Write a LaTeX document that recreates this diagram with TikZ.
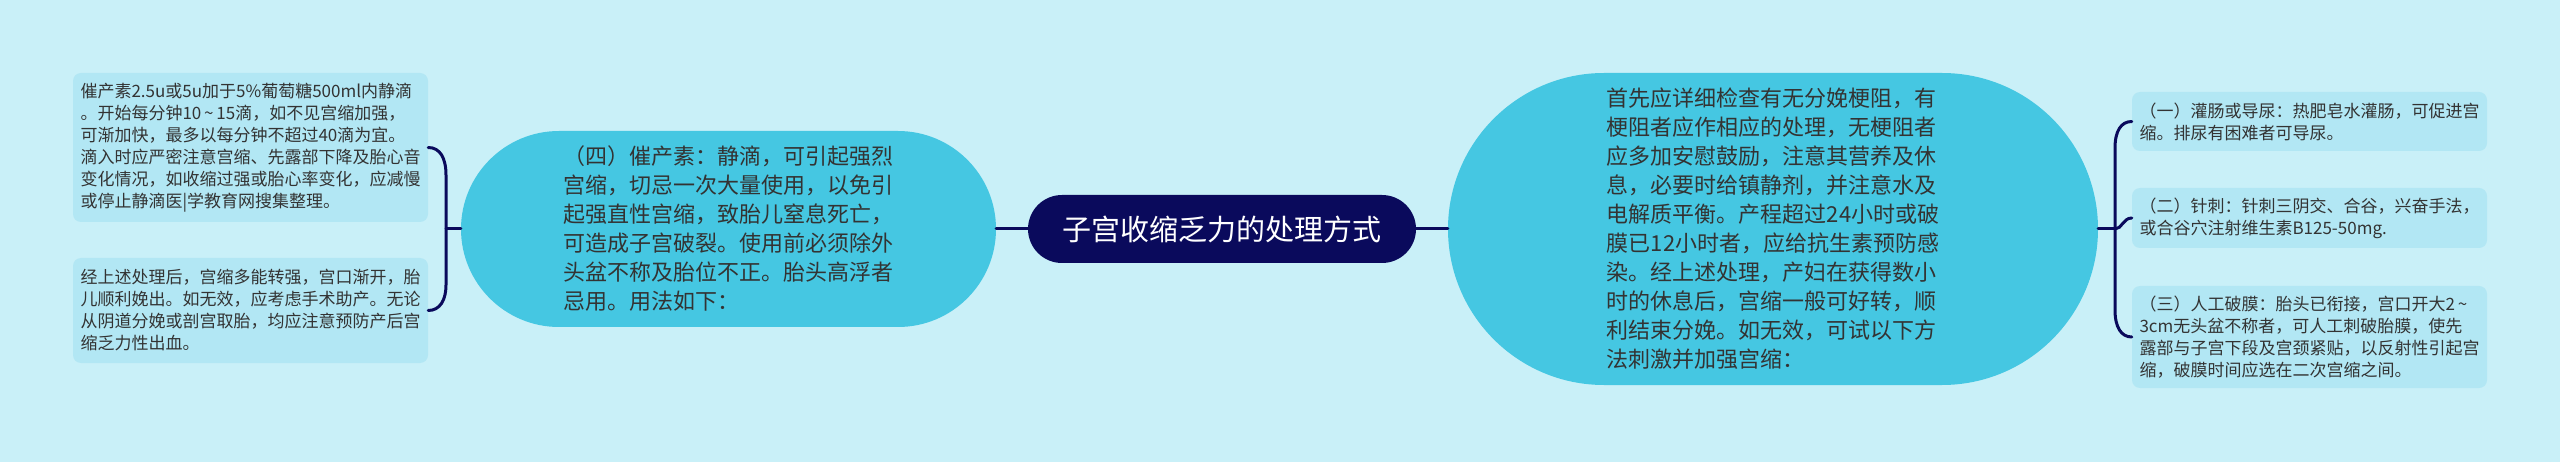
\documentclass[tikz,border=0pt]{standalone}
\usepackage{fontspec}
\setmainfont{Noto Sans CJK SC}
\definecolor{bgc}{HTML}{C9F0F8}
\definecolor{boxc}{HTML}{B2E7F4}
\definecolor{bigc}{HTML}{45C7E2}
\definecolor{navy}{HTML}{0A0A5C}
\definecolor{txt}{HTML}{333333}
\newcommand{\tld}{\,\textasciitilde\,}
\begin{document}
\begin{tikzpicture}[x=1pt,y=-1pt,
  sbox/.style={fill=boxc, rounded corners=8pt, text width=340pt, inner xsep=7.5pt, inner ysep=0pt,
    align=left, font=\fontsize{17pt}{22pt}\selectfont, text=txt},
  bignode/.style={fill=bigc, inner sep=0pt, align=left, font=\fontsize{22pt}{29pt}\selectfont, text=txt},
  rootnode/.style={fill=navy, inner sep=0pt, minimum width=388pt, minimum height=68pt, rounded corners=34pt,
    text=white, font=\fontsize{29pt}{34pt}\selectfont},
  conn/.style={draw=navy, line width=3pt, line cap=round}]
\fill[bgc] (0,0) rectangle (2560,462);
\useasboundingbox (0,0) rectangle (2560,462);

\node[rootnode] (root) at (1222,229) {子宫收缩乏力的处理方式};

\node[bignode, minimum width=535pt, minimum height=196pt, rounded corners=98pt] (lbig) at (728.5,229)
{（四）催产素：静滴，可引起强烈\\宫缩，切忌一次大量使用，以免引\\起强直性宫缩，致胎儿窒息死亡，\\可造成子宫破裂。使用前必须除外\\头盆不称及胎位不正。胎头高浮者\\忌用。用法如下：};

\node[bignode, minimum width=650pt, minimum height=312pt, rounded corners=156pt] (rbig) at (1773,229)
{首先应详细检查有无分娩梗阻，有\\梗阻者应作相应的处理，无梗阻者\\应多加安慰鼓励，注意其营养及休\\息，必要时给镇静剂，并注意水及\\电解质平衡。产程超过24小时或破\\膜已12小时者，应给抗生素预防感\\染。经上述处理，产妇在获得数小\\时的休息后，宫缩一般可好转，顺\\利结束分娩。如无效，可试以下方\\法刺激并加强宫缩：};

\node[sbox, minimum height=149pt] (ltop) at (250.5,147.5)
{催产素2.5u或5u加于5\%葡萄糖500ml内静滴\\。开始每分钟10\tld15滴，如不见宫缩加强，\\可渐加快，最多以每分钟不超过40滴为宜。\\滴入时应严密注意宫缩、先露部下降及胎心音\\变化情况，如收缩过强或胎心率变化，应减慢\\或停止静滴医|学教育网搜集整理。};

\node[sbox, minimum height=105pt] (lbot) at (250.5,310.5)
{经上述处理后，宫缩多能转强，宫口渐开，胎\\儿顺利娩出。如无效，应考虑手术助产。无论\\从阴道分娩或剖宫取胎，均应注意预防产后宫\\缩乏力性出血。};

\node[sbox, minimum height=59pt] (r1) at (2309.5,121.5)
{（一）灌肠或导尿：热肥皂水灌肠，可促进宫\\缩。排尿有困难者可导尿。};

\node[sbox, minimum height=60pt] (r2) at (2309.5,218)
{（二）针刺：针刺三阴交、合谷，兴奋手法，\\或合谷穴注射维生素B125-50mg.};

\node[sbox, minimum height=102pt] (r3) at (2309.5,337)
{（三）人工破膜：胎头已衔接，宫口开大2\tld\\3cm无头盆不称者，可人工刺破胎膜，使先\\露部与子宫下段及宫颈紧贴，以反射性引起宫\\缩，破膜时间应选在二次宫缩之间。};

% connectors
\draw[conn] (lbig.east) -- (root.west);
\draw[conn] (root.east) -- (rbig.west);

\coordinate (lj) at (446,229);
\draw[conn] (lbig.west) -- (lj);
\draw[conn] (ltop.east) .. controls (440,147.5) and (446,158) .. (446,175) -- (446,285) .. controls (446,300) and (440,310.5) .. (lbot.east);

\coordinate (rj) at (2115,229);
\draw[conn] (rbig.east) -- (rj);
\draw[conn] (r1.west) .. controls (2121,121.5) and (2115,131) .. (2115,148) -- (2115,310) .. controls (2115,327) and (2121,337) .. (r3.west);
\draw[conn] (rj) .. controls (2122,229) and (2123,218) .. (r2.west);
\end{tikzpicture}
\end{document}
